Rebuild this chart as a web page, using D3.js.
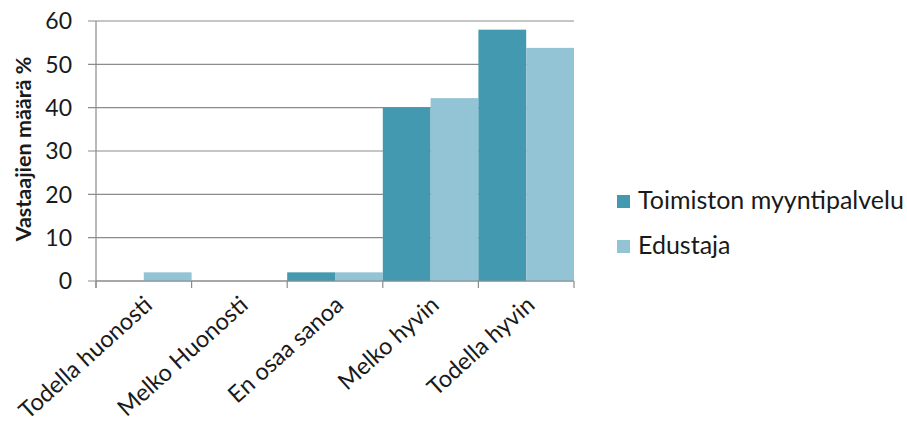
<!DOCTYPE html>
<html><head><meta charset="utf-8">
<script src="https://cdn.jsdelivr.net/npm/d3@7"></script>
<style>body{margin:0;background:#fff}svg{display:block}text{font-family:Lato,"Open Sans",sans-serif;fill:#1a1a1a}</style>
</head><body><svg id="c" width="907" height="427"></svg>
<script>
const categories = ["Todella huonosti","Melko Huonosti","En osaa sanoa","Melko hyvin","Todella hyvin"];
const seriesNames = ["Toimiston myyntipalvelu","Edustaja"];
const toimisto = [0,0,2,40,58];
const edustaja = [2,0,2,42.2,53.8];
const yTicks = [0,10,20,30,40,50,60];
const colors = ["#4399B0","#93C4D6"];
const yTitle = "Vastaajien määrä %";

const svg = d3.select("#c");
const L=96, R=574, T=21, B=281;
const x = d3.scaleBand().domain(categories).range([L,R]).padding(0);
const xs = d3.scaleBand().domain(seriesNames).range([0,x.bandwidth()]).padding(0);
const y = d3.scaleLinear().domain([0,60]).range([B,T]);
const grid="#8c8c8c";

svg.append("g").selectAll("line").data(yTicks).join("line")
  .attr("x1",L-8).attr("x2",R).attr("y1",d=>y(d)).attr("y2",d=>y(d))
  .attr("stroke",grid).attr("stroke-width",1.2);
svg.append("line").attr("x1",L).attr("x2",L).attr("y1",T).attr("y2",B+7).attr("stroke",grid).attr("stroke-width",1.2);
const data = categories.map((c,i)=>({c, vals:[toimisto[i],edustaja[i]]}));
svg.append("g").selectAll("g").data(data).join("g")
  .attr("transform",d=>`translate(${x(d.c)},0)`)
  .selectAll("rect").data(d=>d.vals.map((v,j)=>({v,s:seriesNames[j],j}))).join("rect")
  .attr("x",d=>xs(d.s)).attr("width",xs.bandwidth())
  .attr("y",d=>y(d.v)).attr("height",d=>B-y(d.v))
  .attr("fill",d=>colors[d.j]);
svg.append("line").attr("x1",L).attr("x2",R).attr("y1",B).attr("y2",B).attr("stroke",grid).attr("stroke-width",1.2);
const xt = categories.map(c=>x(c)).concat([R]);
svg.append("g").selectAll("line").data(xt).join("line")
  .attr("x1",d=>d).attr("x2",d=>d).attr("y1",B).attr("y2",B+7).attr("stroke",grid).attr("stroke-width",1.2);
svg.append("g").selectAll("text").data(yTicks).join("text")
  .attr("x",72).attr("y",d=>y(d)).attr("dy","0.36em").attr("text-anchor","end")
  .attr("font-size",23).text(d=>d);
svg.append("g").selectAll("text").data(categories).join("text")
  .attr("transform",d=>`translate(${x(d)+x.bandwidth()/2+10},${B+26}) rotate(-42)`)
  .attr("text-anchor","end").attr("font-size",23.5).text(d=>d);
svg.append("text").attr("transform",`translate(31,${(T+B)/2-2}) rotate(-90)`)
  .attr("text-anchor","middle").attr("font-size",21.5).attr("font-weight","bold").text(yTitle);
const lg = svg.append("g").selectAll("g").data(seriesNames).join("g")
  .attr("transform",(d,i)=>`translate(617,${195+i*45})`);
lg.append("rect").attr("width",13).attr("height",13).attr("fill",(d,i)=>colors[i]);
lg.append("text").attr("x",21).attr("y",13.5).attr("font-size",25).text(d=>d);
</script></body></html>
